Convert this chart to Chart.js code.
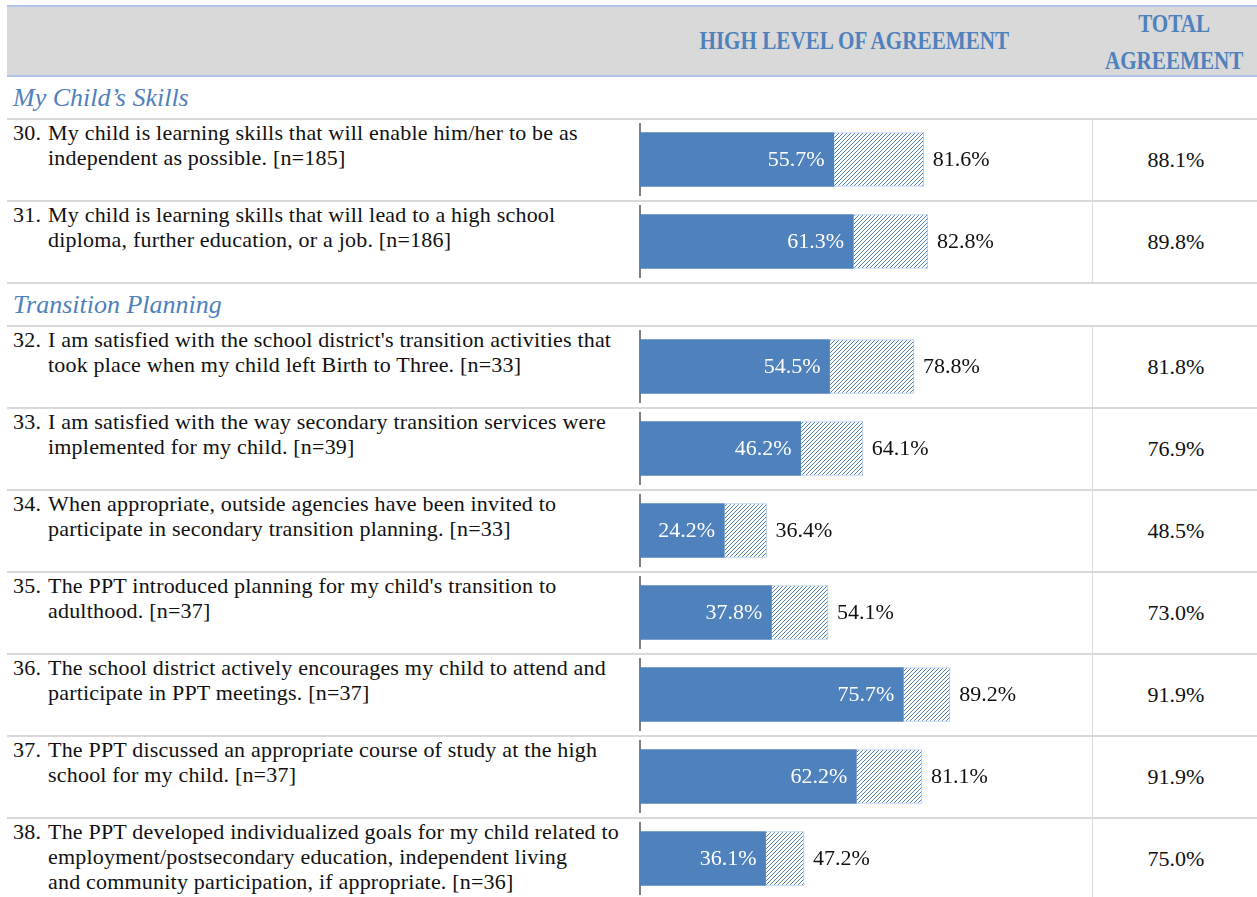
<!DOCTYPE html>
<html>
<head>
<meta charset="utf-8">
<script src="https://cdn.jsdelivr.net/npm/chart.js@4.4.1/dist/chart.umd.min.js"></script>
<style>
  html, body { margin: 0; padding: 0; background: #fff; overflow: hidden; }
  body { width: 1257px; height: 897px; font-family: "Liberation Serif", serif; color: #111; }
  #sheet { position: absolute; left: 7px; top: 5px; width: 1250px; }
  .head { display: flex; height: 68px; background: #d9d9d9;
    border-top: 2px solid #b4c6e7; border-bottom: 2px solid #b4c6e7; }
  .head .c2 { width: 460px; padding-right: 16px; box-sizing: border-box; display: flex;
    align-items: center; justify-content: center; }
  .head .c3 { width: 165px; display: flex; align-items: center; justify-content: center;
    text-align: center; line-height: 33px; padding-top: 1px; }
  .hd { color: #4f81bd; font-weight: bold; font-size: 22px; display: inline-block; transform: scale(0.96, 1.12); }
  .c1 { width: 625px; flex: none; }
  .c2 { width: 460px; flex: none; }
  .c3 { flex: 1; }
  .section { height: 41px; border-bottom: 2px solid #d9d9d9; color: #4f81bd;
    font-style: italic; font-size: 26px; line-height: 41px; padding-left: 6px; box-sizing: content-box; }
  .row { display: flex; height: 80px; border-bottom: 2px solid #d9d9d9; }
  .row .c1 { display: flex; padding-left: 6px; box-sizing: border-box; font-size: 22px;
    letter-spacing: 0.2px; line-height: 25px; white-space: nowrap; }
  .row .num { width: 35px; flex: none; }
  .row .c2 { position: relative; }
  .row .c3 { border-left: 1px solid #d9d9d9; display: flex; align-items: center;
    justify-content: center; font-size: 22px; padding-left: 2px; }
  canvas { display: block; }
</style>
</head>
<body>
<div id="sheet"></div>
<script>
// Survey items: share with a high level of agreement (solid bar), share agreeing
// (end of hatched bar) and total agreement (right column).
const QUESTION_NO = [30, 31, 32, 33, 34, 35, 36, 37, 38];
const QUESTIONS = [
  ["My child is learning skills that will enable him/her to be as", "independent as possible. [n=185]"],
  ["My child is learning skills that will lead to a high school", "diploma, further education, or a job. [n=186]"],
  ["I am satisfied with the school district's transition activities that", "took place when my child left Birth to Three. [n=33]"],
  ["I am satisfied with the way secondary transition services were", "implemented for my child. [n=39]"],
  ["When appropriate, outside agencies have been invited to", "participate in secondary transition planning. [n=33]"],
  ["The PPT introduced planning for my child's transition to", "adulthood. [n=37]"],
  ["The school district actively encourages my child to attend and", "participate in PPT meetings. [n=37]"],
  ["The PPT discussed an appropriate course of study at the high", "school for my child. [n=37]"],
  ["The PPT developed individualized goals for my child related to", "employment/postsecondary education, independent living", "and community participation, if appropriate. [n=36]"],
];
const HIGH_AGREE = [55.7, 61.3, 54.5, 46.2, 24.2, 37.8, 75.7, 62.2, 36.1];
const AGREE = [81.6, 82.8, 78.8, 64.1, 36.4, 54.1, 89.2, 81.1, 47.2];
const TOTAL_AGREE = [88.1, 89.8, 81.8, 76.9, 48.5, 73.0, 91.9, 91.9, 75.0];
// section title shown before the question at that index
const SECTIONS = { 0: "My Child’s Skills", 2: "Transition Planning" };
const HEADERS = ["HIGH LEVEL OF AGREEMENT", ["TOTAL", "AGREEMENT"]];

const BLUE = "#4f81bd";
const X_MAX = 130;

// dark upward diagonal, drawn per canvas so the tile lines up
function hatch(ctx) {
  const c = document.createElement("canvas");
  c.width = 4; c.height = 4;
  const g = c.getContext("2d");
  g.fillStyle = "#fff";
  g.fillRect(0, 0, 4, 4);
  g.fillStyle = BLUE;
  for (let i = 0; i < 4; i++) g.fillRect(3 - i, i, 1, 1);
  return ctx.createPattern(c, "repeat");
}

const fmt = (v) => v.toFixed(1) + "%";

const labelPlugin = {
  id: "barLabels",
  afterDatasetsDraw(chart) {
    const ctx = chart.ctx;
    ctx.save();
    ctx.font = '22px "Liberation Serif", serif';
    ctx.textBaseline = "middle";
    const inner = chart.getDatasetMeta(0).data;
    const outer = chart.getDatasetMeta(1).data;
    inner.forEach((bar, i) => {
      ctx.fillStyle = "#fff";
      ctx.textAlign = "right";
      ctx.fillText(fmt(chart.data.datasets[0].data[i]), bar.x - 9, bar.y + 1);
    });
    outer.forEach((bar, i) => {
      ctx.fillStyle = "#111";
      ctx.textAlign = "left";
      ctx.fillText(fmt(chart.data.datasets[1].data[i][1]), bar.x + 9, bar.y + 1);
    });
    ctx.restore();
  },
};

function esc(s) {
  return String(s).replace(/[&<>"']/g, (c) => ({
    "&": "&amp;", "<": "&lt;", ">": "&gt;", "\"": "&quot;", "'": "&#39;",
  }[c]));
}

const sheet = document.getElementById("sheet");
let html = `
  <div class="head">
    <div class="c1"></div>
    <div class="c2"><span class="hd">${esc(HEADERS[0])}</span></div>
    <div class="c3"><span class="hd">${HEADERS[1].map(esc).join("<br>")}</span></div>
  </div>`;
QUESTIONS.forEach((lines, i) => {
  if (SECTIONS[i]) html += `<div class="section">${esc(SECTIONS[i])}</div>`;
  html += `
  <div class="row">
    <div class="c1"><span class="num">${QUESTION_NO[i]}.</span><span class="txt">${lines.map(esc).join("<br>")}</span></div>
    <div class="c2"><canvas id="bar${i}" width="460" height="80"></canvas></div>
    <div class="c3">${fmt(TOTAL_AGREE[i])}</div>
  </div>`;
});
sheet.innerHTML = html;

QUESTIONS.forEach((_, i) => {
  const canvas = document.getElementById("bar" + i);
  new Chart(canvas, {
    type: "bar",
    data: {
      labels: [QUESTION_NO[i]],
      datasets: [
        { data: [HIGH_AGREE[i]], backgroundColor: BLUE, borderWidth: 0,
          barThickness: 54, grouped: false, order: 1 },
        { data: [[HIGH_AGREE[i], AGREE[i]]], backgroundColor: hatch(canvas.getContext("2d")),
          borderColor: "#b4c7e7", borderWidth: 1, borderSkipped: false,
          barThickness: 54, grouped: false, order: 2 },
      ],
    },
    options: {
      indexAxis: "y",
      responsive: false,
      animation: false,
      devicePixelRatio: 1,
      layout: { padding: { top: 4, bottom: 5, left: 8, right: 0 } },
      plugins: { legend: { display: false }, tooltip: { enabled: false } },
      scales: {
        x: { display: false, min: 0, max: X_MAX },
        y: {
          display: true,
          ticks: { display: false },
          grid: { display: false, drawTicks: false },
          border: { display: true, color: "#808080", width: 2 },
        },
      },
    },
    plugins: [labelPlugin],
  });
});
</script>
</body>
</html>
